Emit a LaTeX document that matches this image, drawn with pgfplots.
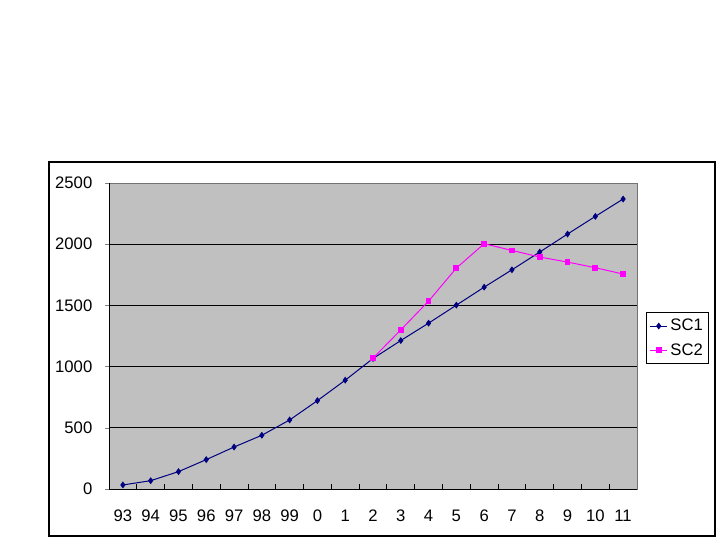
\documentclass[border=0pt]{standalone}
\usepackage{fontspec}
\setmainfont{Liberation Sans}
\usepackage{pgfplots}
\pgfplotsset{compat=1.18}
\definecolor{plotgray}{HTML}{C0C0C0}
\definecolor{sconecol}{HTML}{000080}
\definecolor{sctwocol}{HTML}{FF00FF}
\begin{document}
\begin{tikzpicture}
\useasboundingbox (0,0) rectangle (540pt,405pt);
\fill[white] (0,0) rectangle (540pt,405pt);
% chart border
\draw[black, line width=0.9pt] (36.75pt,3pt) rectangle (536.25pt,283.5pt);
\begin{axis}[%
    at={(81.75pt,38.25pt)}, anchor=south west,
    scale only axis,
    width=396pt, height=229.5pt,
    xmin=-0.5, xmax=18.5,
    ymin=0, ymax=2500,
    axis background/.style={fill=plotgray},
    axis line style={draw=gray!90!black, line width=0.6pt},
    xtick={0,...,18},
    xticklabels={93,94,95,96,97,98,99,0,1,2,3,4,5,6,7,8,9,10,11},
    major x tick style={draw=none},
    minor xtick={0.5,1.5,...,17.5},
    minor x tick style={black, line width=0.6pt},
    minor tick length=4pt,
    xtick align=inside, xtick pos=bottom,
    ytick={0,500,...,2500}, ytick align=outside, ytick pos=left,
    major tick length=3pt,
    ymajorgrids, grid style={black, line width=0.75pt},
    tick label style={font=\fontsize{12.5}{14}\selectfont},
    xticklabel style={yshift=-12pt},
    yticklabel style={xshift=-6pt},
    /pgf/number format/assume math mode=true,
    /pgf/number format/1000 sep={},
    legend style={at={(1.017,0.578)}, anchor=north west,
        draw=black, line width=0.6pt, fill=white,
        font=\fontsize{12.5}{14}\selectfont,
        inner xsep=2.5pt, inner ysep=3pt,
        row sep=4pt},
    legend cell align=left,
    legend image code/.code={%
        \draw[#1] (0cm,0cm) -- (0.45cm,0cm);
        \draw[#1, only marks] plot coordinates {(0.225cm,0cm)};},
    ]
\addplot[sconecol, line width=0.75pt, mark=diamond*, mark size=2pt,
    mark options={solid, fill=sconecol}] coordinates {
(0,33) (1,68) (2,142) (3,240) (4,343) (5,439) (6,564) (7,722) (8,889)
(9,1066) (10,1213) (11,1355) (12,1502) (13,1649) (14,1791) (15,1936)
(16,2083) (17,2227) (18,2369)
};
\addlegendentry{SC1}
\addplot[sctwocol, line width=0.75pt, mark=square*, mark size=1.8pt,
    mark options={solid, fill=sctwocol}] coordinates {
(9,1069) (10,1300) (11,1535) (12,1805) (13,2004) (14,1949) (15,1895)
(16,1854) (17,1808) (18,1756)
};
\addlegendentry{SC2}
% redraw axis lines at left and bottom in black
\draw[black, line width=0.75pt] (rel axis cs:0,1) -- (rel axis cs:0,0) -- (rel axis cs:1,0);
\end{axis}
\end{tikzpicture}
\end{document}
